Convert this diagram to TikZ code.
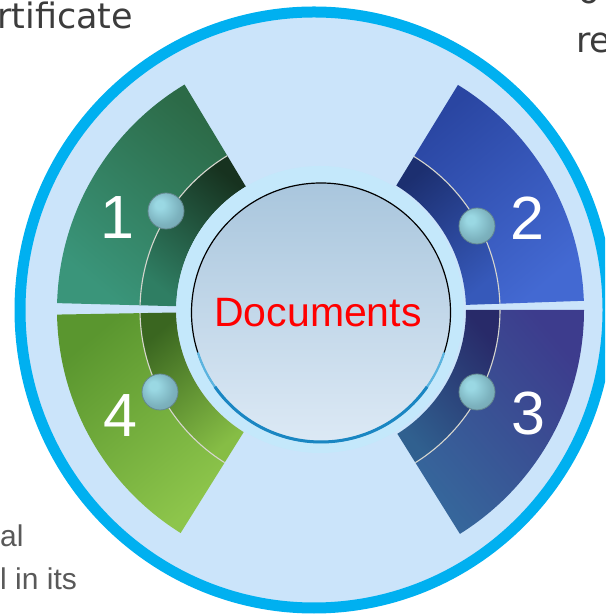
\documentclass[tikz,border=0pt]{standalone}
\usepackage{fontspec}
\setmainfont{Liberation Sans}
\newfontfamily\dejavu{DejaVu Sans}
\definecolor{bgblue}{HTML}{CBE4FA}
\definecolor{ringblue}{HTML}{00B0F0}
\definecolor{halo}{HTML}{C4E8FB}
\definecolor{divline}{HTML}{D6D6CE}
\definecolor{ballhi}{HTML}{9AD8E3}
\definecolor{ballmid}{HTML}{7CB2BE}
\definecolor{ballout}{HTML}{6F9CA6}
\definecolor{balledge}{HTML}{648890}
\definecolor{titlegray}{HTML}{3C3C3C}
\definecolor{bodygray}{HTML}{595959}
\definecolor{sAo1}{HTML}{2C6A47}\definecolor{sAo2}{HTML}{3A957A}
\definecolor{sAi1}{HTML}{17321F}\definecolor{sAi2}{HTML}{2F7E63}
\definecolor{sBo1}{HTML}{2A46A2}\definecolor{sBo2}{HTML}{4369D2}
\definecolor{sBi1}{HTML}{1C2F70}\definecolor{sBi2}{HTML}{3659BA}
\definecolor{sCo1}{HTML}{3D3C8D}\definecolor{sCo2}{HTML}{36669B}
\definecolor{sCi1}{HTML}{282A69}\definecolor{sCi2}{HTML}{30608F}
\definecolor{sDo1}{HTML}{5A962F}\definecolor{sDo2}{HTML}{8DC54B}
\definecolor{sDi1}{HTML}{3A6620}\definecolor{sDi2}{HTML}{86BD45}
\definecolor{docTop}{HTML}{A9C6DD}
\definecolor{docMid}{HTML}{D9E8F5}
\definecolor{docBot}{HTML}{DCE9F5}
\definecolor{rimLight}{HTML}{5AB4E0}
\definecolor{rimDark}{HTML}{1A86C2}
\pgfdeclareradialshading{myball}{\pgfpoint{-10bp}{10bp}}{color(0bp)=(ballhi); color(6bp)=(ballhi); color(24bp)=(ballmid); color(42bp)=(ballout); color(50bp)=(balledge)}
\tikzset{
  annsector/.style n args={4}{insert path={(#1:#3) arc[start angle=#1, end angle=#2, radius=#3] -- (#2:#4) arc[start angle=#2, end angle=#1, radius=#4] -- cycle}},
  divider/.style={draw=divline, line width=1.1pt},
  ballst/.style={circle, minimum size=36pt, inner sep=0pt, shade, shading=myball, draw=balledge, line width=0.8pt},
  num/.style={text=white, font=\fontsize{61}{61}\selectfont, inner sep=0pt, anchor=base},
  doctext/.style={text=red, font=\fontsize{41}{41}\selectfont, inner sep=0pt, anchor=base},
  titletext/.style={text=titlegray, font=\dejavu\fontsize{35}{35}\selectfont, inner sep=0pt, anchor=base west},
  bodytext/.style={text=bodygray, font=\fontsize{30}{30}\selectfont, inner sep=0pt, anchor=base west}
}
\begin{document}
\begin{tikzpicture}[x=1pt,y=1pt]
\useasboundingbox (0,0) rectangle (605,615);
\clip (0,0) rectangle (605,615);
% outer disc and ring
\coordinate (rc) at (314,305);
\fill[bgblue] (rc) ellipse [x radius=294, y radius=298];
\draw[ringblue, line width=11pt] (rc) ellipse [x radius=294, y radius=298];
% segments
\begin{scope}[shift={(320,305)}]
  \shade[top color=sAo1, bottom color=sAo2, shading angle=-40, annsector={121}{178.5}{180}{263}];
  \shade[top color=sAi1, bottom color=sAi2, shading angle=-40, annsector={121}{178.5}{144}{180}];
  \draw[divider] (121:180) arc[start angle=121, end angle=178.5, radius=180];
  \shade[top color=sBo1, bottom color=sBo2, shading angle=40, annsector={2}{58.5}{180}{264}];
  \shade[top color=sBi1, bottom color=sBi2, shading angle=40, annsector={2}{58.5}{146}{180}];
  \draw[divider] (2:180) arc[start angle=2, end angle=58.5, radius=180];
  \shade[top color=sCo1, bottom color=sCo2, shading angle=-50, annsector={-58}{0}{180}{264}];
  \shade[top color=sCi1, bottom color=sCi2, shading angle=-50, annsector={-58}{0}{146}{180}];
  \draw[divider] (-58:180) arc[start angle=-58, end angle=0, radius=180];
  \shade[top color=sDo1, bottom color=sDo2, shading angle=40, annsector={181}{238}{180}{263}];
  \shade[top color=sDi1, bottom color=sDi2, shading angle=40, annsector={181}{238}{144}{180}];
  \draw[divider] (181:180) arc[start angle=181, end angle=238, radius=180];
\end{scope}
% balls
\node[ballst] (b1) at (166,404) {};
\node[ballst] (b2) at (477,389) {};
\node[ballst] (b3) at (477,223) {};
\node[ballst] (b4) at (160,223) {};
% numbers
\node[num] (n1) at (117,376) {1};
\node[num] (n2) at (527,375) {2};
\node[num] (n3) at (528,180) {3};
\node[num] (n4) at (120,178) {4};
% centre
\fill[halo] (320,305.5) circle (143.5);
\coordinate (dc) at (321,302.5);
\shade[top color=docTop, middle color=docMid, bottom color=docBot] (dc) circle (129.5);
\draw[black, line width=1.2pt] (dc) circle (129.5);
\draw[rimLight, line width=2.2pt] ([shift={(198:129.5)}]dc) arc[start angle=198, end angle=342, radius=129.5];
\draw[rimDark, line width=3pt] ([shift={(215:129.5)}]dc) arc[start angle=215, end angle=325, radius=129.5];
\node[doctext] (doc) at (318,288) {Documents};
% side texts
\node[titletext] (t1) at (-3,586) {rtificate};
\node[titletext] (t2) at (576,562) {re};
\node[titletext] (t3) at (578,611) {o};
\node[bodytext] (t4) at (0,68) {al};
\node[bodytext] (t5) at (0,25) {l in its};
\end{tikzpicture}
\end{document}
